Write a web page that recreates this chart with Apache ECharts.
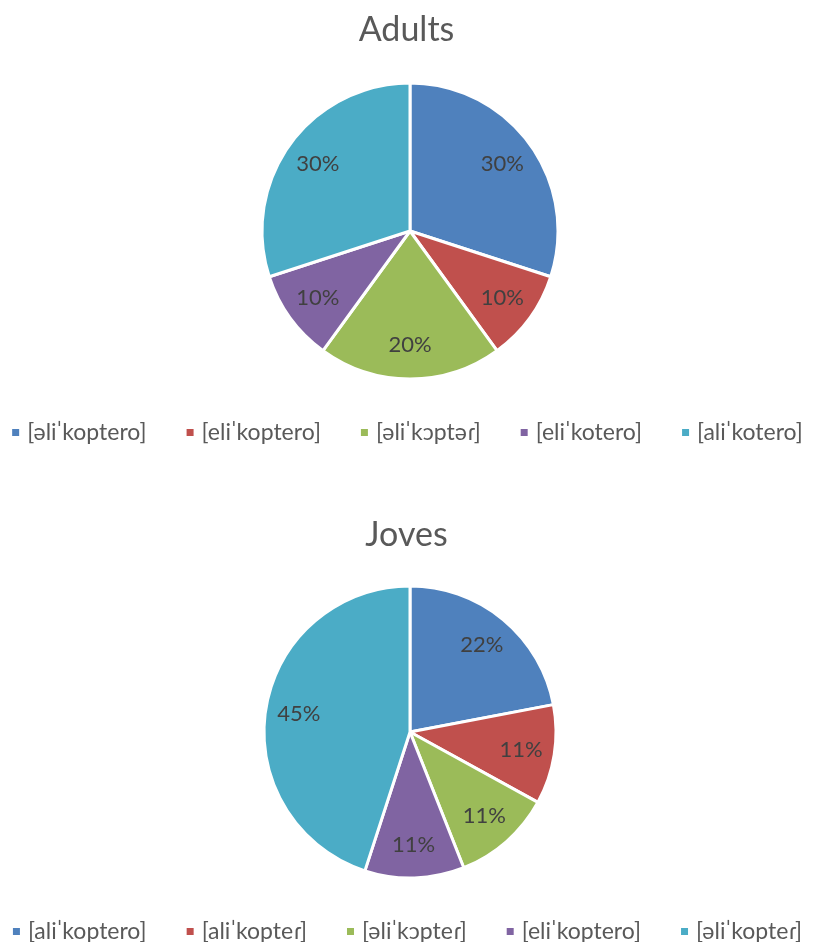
<!DOCTYPE html>
<html>
<head>
<meta charset="utf-8">
<script src="https://cdn.jsdelivr.net/npm/echarts@6/dist/echarts.min.js"></script>
<style>
  html, body { margin: 0; padding: 0; background: #fff; }
  #adults { width: 813px; height: 480px; }
  #joves { width: 813px; height: 462px; }
</style>
</head>
<body>
<div id="adults"></div>
<div id="joves"></div>
<script>
// Pronunciation shares (%) for each speaker group
const adultsNames = ['[əliˈkoptero]', '[eliˈkoptero]', '[əliˈkɔptəɾ]', '[eliˈkotero]', '[aliˈkotero]'];
const adultsValues = [30, 10, 20, 10, 30];

const jovesNames = ['[aliˈkoptero]', '[aliˈkopteɾ]', '[əliˈkɔpteɾ]', '[eliˈkoptero]', '[əliˈkopteɾ]'];
const jovesValues = [22, 11, 11, 11, 45];

const palette = ['#4F81BD', '#C0504D', '#9BBB59', '#8064A2', '#4BACC6'];
const FONT = 'Lato, "Noto Sans", "DejaVu Sans", sans-serif';

function buildOption(title, names, values, layout) {
  const data = names.map((n, i) => ({ name: n, value: values[i] }));
  return {
    animation: false,
    color: palette,
    title: {
      text: title,
      left: 'center',
      top: layout.titleTop,
      textStyle: { fontFamily: FONT, fontSize: 34, fontWeight: 'normal', color: '#595959' }
    },
    legend: {
      data: names,
      left: 'center',
      top: layout.legendTop,
      icon: 'rect',
      itemWidth: 9,
      itemHeight: 9,
      itemGap: 38,
      textStyle: { fontFamily: FONT, fontSize: 23, color: '#595959', padding: [0, 0, 0, 2] }
    },
    series: [
      {
        type: 'pie',
        center: [410, layout.cy],
        radius: [0, layout.r],
        startAngle: 90,
        clockwise: true,
        silent: true,
        label: { show: false },
        labelLine: { show: false },
        itemStyle: { borderColor: '#ffffff', borderWidth: 3 },
        data: data
      },
      {
        // transparent ring used only to place percentage labels
        type: 'pie',
        center: [410, layout.cy],
        radius: [layout.r * 0.5, layout.r],
        startAngle: 90,
        clockwise: true,
        silent: true,
        itemStyle: { color: 'rgba(0,0,0,0)' },
        label: {
          show: true,
          position: 'inside',
          formatter: '{c}%',
          fontFamily: FONT,
          fontSize: 22,
          color: '#404040'
        },
        labelLine: { show: false },
        data: data
      }
    ]
  };
}

const c1 = echarts.init(document.getElementById('adults'));
c1.setOption(buildOption('Adults', adultsNames, adultsValues,
  { titleTop: 8, legendTop: 416, cy: 231, r: 148 }));

const c2 = echarts.init(document.getElementById('joves'));
c2.setOption(buildOption('Joves', jovesNames, jovesValues,
  { titleTop: 33, legendTop: 435, cy: 252, r: 146 }));
</script>
</body>
</html>
